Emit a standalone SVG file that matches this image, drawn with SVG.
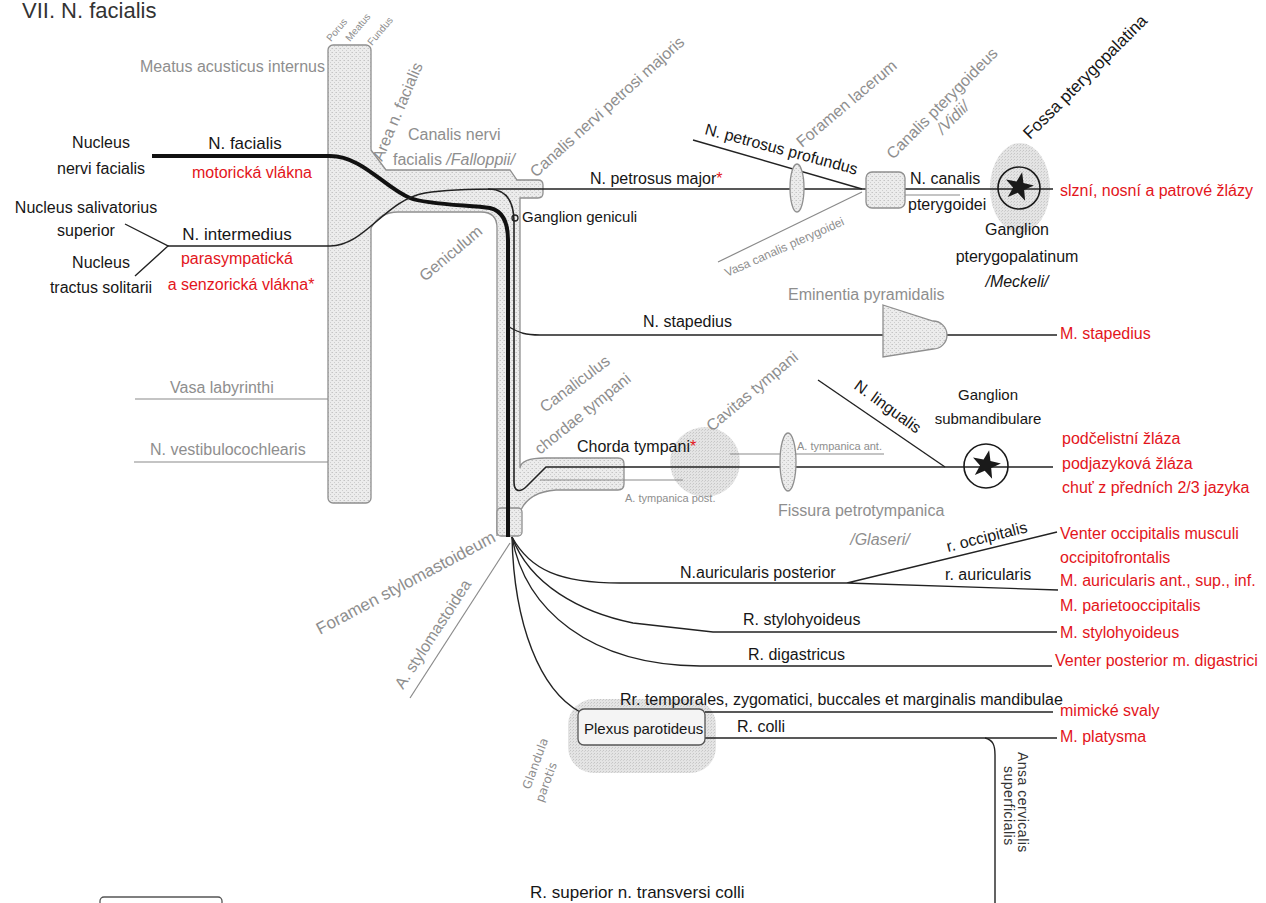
<svg xmlns="http://www.w3.org/2000/svg" width="1266" height="903" viewBox="0 0 1266 903">
<defs>
<pattern id="st" width="4" height="4" patternUnits="userSpaceOnUse"><rect width="4" height="4" fill="#ececec"/><rect x="0" y="0" width="1" height="1" fill="#c4c4c4"/><rect x="2" y="2" width="1" height="1" fill="#cdcdcd"/><rect x="3" y="0" width="1" height="1" fill="#d8d8d8"/></pattern>
<pattern id="halo" width="3" height="3" patternUnits="userSpaceOnUse"><rect width="3" height="3" fill="#e4e4e4"/><rect x="0" y="0" width="1" height="1" fill="#c6c6c6"/><rect x="2" y="1" width="1" height="1" fill="#d0d0d0"/></pattern>
<polygon id="star" points="0,-15 3.53,-4.85 14.27,-4.64 5.71,1.85 8.82,12.14 0,6 -8.82,12.14 -5.71,1.85 -14.27,-4.64 -3.53,-4.85" fill="#1a1a1a"/>
</defs>
<style>
text{font-family:"Liberation Sans",Arial,sans-serif;font-size:16px;fill:#161616}
.g{fill:#8e8e8e}
.r{fill:#e3151b}
.i{font-style:italic}
.m{text-anchor:middle}
.e{text-anchor:end}
.s{font-size:11px}
.ln{fill:none;stroke:#222;stroke-width:1.4}
.lg{fill:none;stroke:#8a8a8a;stroke-width:1.2}
.thick{fill:none;stroke:#111;stroke-width:4}
.box{fill:url(#st);stroke:#8f8f8f;stroke-width:1.3}
.halo{fill:url(#halo);stroke:none}
</style>
<rect width="1266" height="903" fill="#fff"/>
<text x="22" y="18" style="font-size:22px;fill:#333">VII. N. facialis</text>

<!-- background structures -->
<g id="meatus">
<rect class="box" x="328" y="45" width="43" height="458" rx="5"/>
<text class="g e" x="325" y="72">Meatus acusticus internus</text>
<text class="g" style="font-size:10px" transform="translate(331,42) rotate(-50)">Porus</text>
<text class="g" style="font-size:10px" transform="translate(350,42) rotate(-50)">Meatus</text>
<text class="g" style="font-size:10px" transform="translate(372,46) rotate(-50)">Fundus</text>
</g>
<g id="canalis-facialis">
<path d="M366,148 L371,150 L386,170 L510,170 L517,180 L538,180 Q543,180 543,185 L543,193 Q543,198 538,198 L520,198 L520,468 Q521,458 545,458 L618,458 Q624,458 624,464 L624,484 Q624,490 618,490 L556,490 Q528,492 520,512 L520,536 L497,536 L497,228 Q497,212 481,212 L398,212 Q380,212 371,228 L366,228 Z" fill="url(#st)"/>
<path d="M371,150 L386,170 L510,170 L517,180 L538,180 Q543,180 543,185 L543,193 Q543,198 538,198 L520,198 L520,468 Q521,458 545,458 L618,458 Q624,458 624,464 L624,484 Q624,490 618,490 L556,490 Q528,492 520,512 L520,536 M497,536 L497,228 Q497,212 481,212 L398,212 Q380,212 371,228" fill="none" stroke="#8f8f8f" stroke-width="1.3"/>
<rect class="box" x="497" y="508" width="25" height="28" rx="4"/>
<text class="g" transform="translate(382,162) rotate(-67)">Area n. facialis</text>
<text class="g" x="408" y="140">Canalis nervi</text>
<text class="g" x="393" y="165">facialis <tspan class="i">/Falloppii/</tspan></text>
<text class="g" transform="translate(536,178) rotate(-42)">Canalis nervi petrosi majoris</text>
<text class="g" transform="translate(425,282) rotate(-40)">Geniculum</text>
<text class="g" transform="translate(545,413) rotate(-37)">Canaliculus</text>
<text class="g" transform="translate(540,455) rotate(-39)">chordae tympani</text>
<text class="g" style="font-size:17px" transform="translate(320,635) rotate(-28)">Foramen stylomastoideum</text>
</g>
<g id="halos">
<circle class="halo" cx="705" cy="462" r="35"/>
<ellipse class="halo" cx="1020" cy="188" rx="30" ry="45"/>
<rect class="halo" x="568" y="699" width="148" height="74" rx="26"/>
</g>

<!-- connectors -->
<g id="connectors">
<path class="thick" d="M152,156 L330,156 C362,156 385,188 410,198 C428,205 470,205 490,208 C503,211 508,222 508,240 L508,537"/>
<path class="ln" d="M125,224 L168,246 L135,276"/>
<path class="ln" style="stroke-width:1.6" d="M168,246 L330,246 C365,246 385,200 425,193 C450,189 480,189 500,189 L1053,189"/>
<path class="ln" style="stroke-width:1.6" d="M488,189 C506,189 514,200 514,222 L514,482 C514,492 520,493 527,486 L546,467 L1053,467"/>
<path class="ln" d="M509,327 C520,333 525,335 540,335 L1057,335"/>
<path class="ln" d="M693,140 L862,189"/>
<path class="lg" d="M718,262 L862,192"/>
<path class="lg" d="M905,195 L960,195"/>
<path class="lg" d="M540,480 L683,480"/>
<path class="lg" d="M730,454 L884,454"/>
<path class="lg" d="M410,698 L510,543"/>
<path class="lg" d="M135,399 L328,399"/>
<path class="lg" d="M134,462 L328,462"/>
<path class="ln" d="M818,380 L945,467"/>
<path class="ln" d="M512,537 C530,570 560,583 620,583 L847,583"/>
<path class="ln" d="M847,583 L1057,532 M847,583 L1058,590"/>
<path class="ln" d="M512,537 C530,585 580,612 633,623 L713,632 L1057,632"/>
<path class="ln" d="M512,537 C525,610 590,665 700,666 L1052,666"/>
<path class="ln" d="M512,537 C514,625 540,690 580,712"/>
<path class="ln" d="M705,712 L1053,712"/>
<path class="ln" d="M705,738 L1057,738"/>
<path class="ln" d="M985,738 C993,740 995,745 995,755 L995,903"/>
</g>

<!-- foreground nodes -->
<g id="foramen-lacerum">
<ellipse class="box" cx="797" cy="188" rx="7" ry="24"/>
<text class="g" transform="translate(802,148) rotate(-40)">Foramen lacerum</text>
</g>
<g id="canalis-pterygoideus">
<rect class="box" x="866" y="172" width="39" height="36" rx="6"/>
<text class="g" transform="translate(893,160) rotate(-45)">Canalis pterygoideus</text>
<text class="g i" transform="translate(943,135) rotate(-45)">/Vidii/</text>
<text x="910" y="184">N. canalis</text>
<text x="908" y="210">pterygoidei</text>
</g>
<g id="ganglion-pterygopalatinum">
<circle cx="1019" cy="188" r="21" fill="none" stroke="#1a1a1a" stroke-width="1.6"/>
<use href="#star" transform="translate(1019,187) rotate(12)"/>
<text style="font-size:17px" transform="translate(1030,140) rotate(-45)">Fossa pterygopalatina</text>
<text class="m" x="1017" y="235">Ganglion</text>
<text class="m" x="1017" y="262">pterygopalatinum</text>
<text class="m i" x="1017" y="287">/Meckeli/</text>
<text class="r" x="1060" y="196">slzní, nosní a patrové žlázy</text>
</g>
<g id="eminentia">
<path class="box" d="M883,305 L933,321 A14,14 0 0 1 933,349 L883,357 Z"/>
<text class="g" x="788" y="300">Eminentia pyramidalis</text>
</g>
<g id="fissura">
<ellipse class="box" cx="788" cy="462" rx="8" ry="29"/>
<text class="g" x="778" y="516">Fissura petrotympanica</text>
<text class="g i m" x="880" y="545">/Glaseri/</text>
</g>
<g id="ganglion-submandibulare">
<circle cx="986" cy="466" r="22" fill="none" stroke="#1a1a1a" stroke-width="1.6"/>
<use href="#star" transform="translate(986,465) rotate(12)"/>
<text class="m" x="988" y="400" style="font-size:15px">Ganglion</text>
<text class="m" x="988" y="424" style="font-size:15px">submandibulare</text>
</g>
<g id="plexus">
<rect x="578" y="709" width="127" height="36" rx="6" fill="#f4f4f4" stroke="#555" stroke-width="1.3"/>
<text x="584" y="734" style="font-size:15px">Plexus parotideus</text>
<text class="g" style="font-family:'DejaVu Sans',sans-serif;font-size:12px" transform="translate(530,790) rotate(-70)">Glandula</text>
<text class="g" style="font-family:'DejaVu Sans',sans-serif;font-size:12px" transform="translate(543,803) rotate(-70)">parotis</text>
</g>
<rect x="100" y="897" width="122" height="20" rx="4" fill="none" stroke="#555" stroke-width="1.3"/>

<!-- labels -->
<g id="nuclei">
<text class="m" x="101" y="148">Nucleus</text>
<text class="m" x="101" y="174">nervi facialis</text>
<text class="m" x="86" y="213">Nucleus salivatorius</text>
<text class="m" x="86" y="236">superior</text>
<text class="m" x="101" y="268">Nucleus</text>
<text class="m" x="101" y="293">tractus solitarii</text>
</g>
<g id="nervus-facialis">
<text class="m" x="245" y="149" style="font-size:17px">N. facialis</text>
<text class="m r" x="252" y="178">motorická vlákna</text>
<text class="m" x="237" y="240" style="font-size:17px">N. intermedius</text>
<text class="m r" x="237" y="264">parasympatická</text>
<text class="m r" x="241" y="290">a senzorická vlákna*</text>
</g>
<g id="ganglion-geniculi">
<circle cx="515" cy="218" r="3" fill="none" stroke="#222" stroke-width="1.3"/>
<text x="522" y="222" style="font-size:15px">Ganglion geniculi</text>
</g>
<g id="petrosus">
<text x="590" y="184">N. petrosus major<tspan class="r">*</tspan></text>
<text transform="translate(704,134) rotate(15)">N. petrosus profundus</text>
<text class="g" style="font-size:12px" transform="translate(727,277) rotate(-24)">Vasa canalis pterygoidei</text>
</g>
<g id="meatus-contents">
<text class="g" x="170" y="393">Vasa labyrinthi</text>
<text class="g" x="150" y="455">N. vestibulocochlearis</text>
</g>
<g id="stapedius">
<text x="643" y="327">N. stapedius</text>
<text class="r" x="1060" y="339">M. stapedius</text>
</g>
<g id="chorda">
<text x="577" y="452">Chorda tympani<tspan class="r">*</tspan></text>
<text class="g" transform="translate(712,432) rotate(-40)">Cavitas tympani</text>
<text class="g s" x="625" y="502">A. tympanica post.</text>
<text class="g s" x="797" y="450">A. tympanica ant.</text>
<text transform="translate(853,388) rotate(36)">N. lingualis</text>
<text class="r" x="1062" y="444">podčelistní žláza</text>
<text class="r" x="1062" y="469">podjazyková žláza</text>
<text class="r" x="1062" y="493">chuť z předních 2/3 jazyka</text>
</g>
<g id="extratemporal">
<text class="g" transform="translate(403,690) rotate(-57)">A. stylomastoidea</text>
<text x="680" y="578">N.auricularis posterior</text>
<text transform="translate(948,552) rotate(-14)">r. occipitalis</text>
<text x="945" y="580">r. auricularis</text>
<text x="743" y="625">R. stylohyoideus</text>
<text x="748" y="660">R. digastricus</text>
<text x="620" y="705">Rr. temporales, zygomatici, buccales et marginalis mandibulae</text>
<text x="737" y="732">R. colli</text>
<text class="r" x="1060" y="539">Venter occipitalis musculi</text>
<text class="r" x="1060" y="563">occipitofrontalis</text>
<text class="r" x="1060" y="586">M. auricularis ant., sup., inf.</text>
<text class="r" x="1060" y="611">M. parietooccipitalis</text>
<text class="r" x="1060" y="638">M. stylohyoideus</text>
<text class="r" x="1055" y="666">Venter posterior m. digastrici</text>
<text class="r" x="1060" y="716">mimické svaly</text>
<text class="r" x="1060" y="742">M. platysma</text>
<text style="font-size:14px;fill:#333;letter-spacing:0.5px" transform="translate(1018,752) rotate(90)">Ansa cervicalis</text>
<text style="font-size:14px;fill:#333;letter-spacing:0.5px" transform="translate(1004,766) rotate(90)">superficialis</text>
<text x="530" y="898" style="font-size:17px">R. superior n. transversi colli</text>
</g>
</svg>
